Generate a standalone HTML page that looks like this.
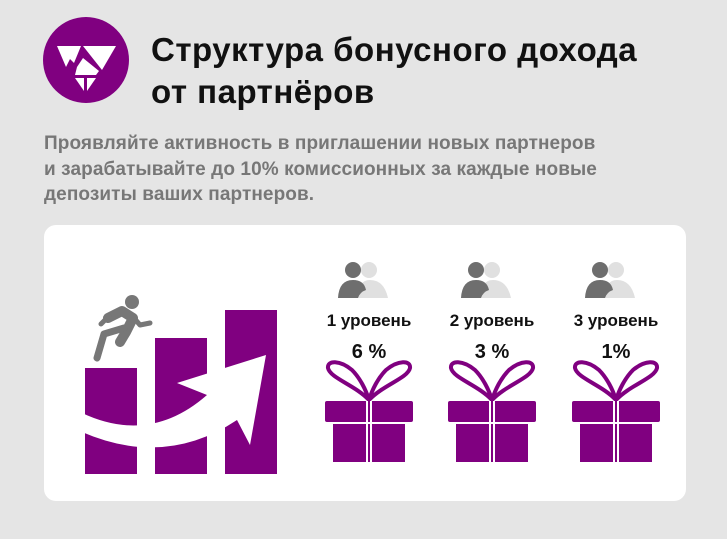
<!DOCTYPE html>
<html><head><meta charset="utf-8"><style>
body{margin:0;width:727px;height:539px;background:#e5e5e5;font-family:"Liberation Sans",sans-serif;position:relative;overflow:hidden}
.t{position:absolute;left:151px;top:29px;font-size:33px;font-weight:bold;color:#111;line-height:42px;letter-spacing:0.5px}
.s{position:absolute;left:44px;top:131px;font-size:19px;font-weight:bold;color:#777;line-height:25.5px;letter-spacing:0.1px}
.card{position:absolute;left:44px;top:225px;width:642px;height:276px;background:#fff;border-radius:12px}
.lv{position:absolute;font-size:17px;font-weight:bold;color:#111;width:130px;text-align:center}
.pc{position:absolute;font-size:20px;font-weight:bold;color:#111;width:130px;text-align:center}
</style></head><body>
<svg style="position:absolute;left:0;top:0" width="727" height="539">
<circle cx="86" cy="60" r="43" fill="#800080"/>
<polygon points="57,46 81,46 74,63 70,59 66,67" fill="#fff"/>
<polygon points="83,46 116,46 102,70" fill="#fff"/>
<polygon points="77,67 83,58 99,71 96,75 75,75" fill="#fff"/>
<polygon points="75,78 84,78 84,91" fill="#fff"/>
<polygon points="87,78 96,78 87,91" fill="#fff"/>
</svg>
<div class="t">Структура бонусного дохода<br>от партнёров</div>
<div class="s">Проявляйте активность в приглашении новых партнеров<br>и зарабатывайте до 10% комиссионных за каждые новые<br>депозиты ваших партнеров.</div>
<div class="card"></div>
<svg style="position:absolute;left:0;top:0" width="727" height="539">
<rect x="85" y="368" width="52" height="106" fill="#800080"/>
<rect x="155" y="338" width="52" height="136" fill="#800080"/>
<rect x="225" y="310" width="52" height="164" fill="#800080"/>
<path d="M82,413 Q150,445 207,395 L177,383 L266,355 L250,445 L237,420 Q165,468 82,432 Z" fill="#fff"/>
<g fill="#777" stroke="#777" stroke-linecap="round" stroke-linejoin="round">
<circle cx="132" cy="302" r="7" stroke="none"/>
<path d="M108,318 L122,311 L133,318 L126,332 L120,342" stroke-width="10" fill="none"/>
<path d="M134,318 L140,325 L150,323" stroke-width="5" fill="none"/>
<path d="M124,328 L104,334 L97,358" stroke-width="7" fill="none"/>
<path d="M109,316 L101,324" stroke-width="5" fill="none"/>
</g>
<g id="g">
<circle cx="369" cy="270" r="8" fill="#e0e0e0"/><path d="M357,298 Q358,280 370,280 Q384,280 388,298 Z" fill="#e0e0e0"/>
<circle cx="353" cy="270" r="8" fill="#6e6e6e"/><path d="M338,298 Q339,280 353,280 Q364,280 366,290 Q360,292 358,298 Z" fill="#6e6e6e"/>
<path d="M369,400 C355,385 330,378 328,368 C327,360 340,360 352,370 C360,378 366,390 369,400 C372,390 378,378 386,370 C398,360 411,360 410,368 C408,378 383,385 369,400 Z" fill="none" stroke="#800080" stroke-width="4"/>
<rect x="325" y="401" width="88" height="21" rx="2" fill="#800080"/>
<rect x="333" y="424" width="72" height="38" fill="#800080"/>
<rect x="366" y="401" width="2" height="61" fill="#fff"/><rect x="370" y="401" width="2" height="61" fill="#fff"/>
</g>
<use href="#g" x="123"/><use href="#g" x="247"/>
</svg>
<div class="lv" style="left:304px;top:311px">1 уровень</div>
<div class="lv" style="left:427px;top:311px">2 уровень</div>
<div class="lv" style="left:551px;top:311px">3 уровень</div>
<div class="pc" style="left:304px;top:341px">6 %</div>
<div class="pc" style="left:427px;top:341px">3 %</div>
<div class="pc" style="left:551px;top:341px">1%</div>
</body></html>
